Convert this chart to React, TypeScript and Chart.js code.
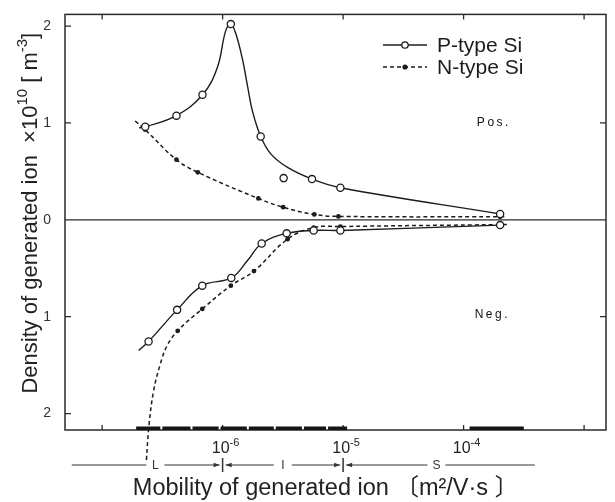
import React, { useEffect, useRef } from 'react';
import { Chart, registerables } from 'chart.js';

Chart.register(...registerables);

// ---------- data (mobility in m^2/V·s, density ×10^10 m^-3; negative = Neg. branch) ----------
const SERIES_LABELS = ['P-type Si', 'N-type Si'];

// P-type, positive ions: measured markers
const P_POS_X = [2.28e-7, 4.14e-7, 6.81e-7, 1.17e-6, 2.07e-6, 3.21e-6, 5.52e-6, 9.49e-6, 2.01e-4];
const P_POS_Y = [0.96, 1.075, 1.29, 2.02, 0.86, 0.43, 0.42, 0.33, 0.06];
// P-type, positive ions: drawn curve
const P_POS_CURVE_X = [2.03e-7, 2.28e-7, 4.14e-7, 6.81e-7, 9.03e-7, 1.06e-6, 1.17e-6, 1.28e-6, 1.46e-6, 1.61e-6, 1.77e-6, 2.07e-6, 2.51e-6, 3.46e-6, 5.52e-6, 9.49e-6, 2.01e-4];
const P_POS_CURVE_Y = [0.95, 0.96, 1.075, 1.29, 1.57, 1.95, 2.02, 1.93, 1.66, 1.38, 1.12, 0.86, 0.68, 0.54, 0.42, 0.33, 0.06];

// N-type, positive ions
const N_POS_X = [2.28e-7, 4.14e-7, 6.23e-7, 1.98e-6, 3.18e-6, 5.77e-6, 9.14e-6, 2.01e-4];
const N_POS_Y = [0.93, 0.62, 0.49, 0.22, 0.13, 0.055, 0.035, 0.03];
const N_POS_CURVE_X = [1.88e-7, 2.28e-7, 4.14e-7, 6.23e-7, 1.98e-6, 3.18e-6, 5.77e-6, 9.14e-6, 2.01e-4, 2.3e-4];
const N_POS_CURVE_Y = [1.02, 0.93, 0.62, 0.49, 0.22, 0.13, 0.055, 0.035, 0.03, 0.03];

// P-type, negative ions
const P_NEG_X = [2.43e-7, 4.19e-7, 6.78e-7, 1.18e-6, 2.11e-6, 3.4e-6, 5.7e-6, 9.49e-6, 2.01e-4];
const P_NEG_Y = [-1.256, -0.93, -0.68, -0.6, -0.245, -0.14, -0.11, -0.11, -0.055];
const P_NEG_CURVE_X = [2.01e-7, 2.43e-7, 4.19e-7, 6.78e-7, 1.18e-6, 1.61e-6, 2.11e-6, 3.4e-6, 5.7e-6, 9.49e-6, 2.01e-4];
const P_NEG_CURVE_Y = [-1.35, -1.256, -0.93, -0.68, -0.6, -0.42, -0.245, -0.14, -0.11, -0.11, -0.055];

// N-type, negative ions
const N_NEG_X = [2.33e-7, 4.24e-7, 6.78e-7, 1.17e-6, 1.82e-6, 3.46e-6, 5.7e-6, 9.49e-6];
const N_NEG_Y = [-2.48, -1.146, -0.92, -0.68, -0.53, -0.2, -0.08, -0.07];
const N_NEG_CURVE_X = [2.33e-7, 2.45e-7, 2.68e-7, 3.04e-7, 3.46e-7, 4.24e-7, 6.78e-7, 1.17e-6, 1.82e-6, 3.46e-6, 5.7e-6, 9.49e-6, 2.01e-4, 2.3e-4];
const N_NEG_CURVE_Y = [-2.48, -2.12, -1.76, -1.49, -1.3, -1.146, -0.92, -0.68, -0.53, -0.2, -0.08, -0.07, -0.05, -0.05];

// axes
const X_MIN = 4.92e-8;
const X_MAX = 1.52e-3;
const X_TICKS = [1e-7, 1e-6, 1e-5, 1e-4, 1e-3];
const X_TICK_LABELS = ['', '10^-6', '10^-5', '10^-4', ''];
const Y_MIN = -2.17;
const Y_MAX = 2.12;
const Y_TICKS = [-2, -1, 0, 1, 2];

// measurement channel bands on the x axis (edges)
const CHANNEL_BANDS = [
  [1.88e-7, 3.1e-7, 5.52e-7, 9.44e-7, 1.62e-6, 2.71e-6, 4.64e-6, 7.36e-6, 1.1e-5],
  [1.1e-4, 3.22e-4],
];

// mobility ranges below the axis
const RANGE_EDGES = [5.6e-8, 1e-6, 1e-5, 3.9e-4];
const RANGE_LABELS = ['L', 'I', 'S'];
const RANGE_LABEL_AT = [2.77e-7, 3.16e-6, 5.96e-5];

// text annotations inside the plot
const NOTE_TEXT = ['Pos.', 'Neg.'];
const NOTE_X = [1.75e-4, 1.7e-4];
const NOTE_Y = [1.0, -0.98];

const X_TITLE = 'Mobility of generated ion';
const X_TITLE_UNIT = '〔m²/V·s 〕';

// ---------- drawing ----------
const FONT = '"Liberation Sans", Arial, "Noto Sans CJK JP", sans-serif';
const INK = '#1c1c1c';

type Part = { t: string; sup?: boolean };

function drawRich(ctx: CanvasRenderingContext2D, parts: Part[], x: number, y: number, size: number, supSize: number, align: string) {
  const widths = parts.map((p) => {
    ctx.font = `${p.sup ? supSize : size}px ${FONT}`;
    return ctx.measureText(p.t).width;
  });
  const total = widths.reduce((a, b) => a + b, 0);
  let cx = align === 'center' ? x - total / 2 : align === 'right' ? x - total : x;
  ctx.textAlign = 'left';
  ctx.textBaseline = 'alphabetic';
  parts.forEach((p, i) => {
    ctx.font = `${p.sup ? supSize : size}px ${FONT}`;
    ctx.fillText(p.t, cx, p.sup ? y - size * 0.45 : y);
    cx += widths[i];
  });
}

function arrowHead(ctx: CanvasRenderingContext2D, x: number, y: number, dir: number) {
  ctx.beginPath();
  ctx.moveTo(x, y);
  ctx.lineTo(x - dir * 6, y - 2.3);
  ctx.lineTo(x - dir * 6, y + 2.3);
  ctx.closePath();
  ctx.fill();
}

const decorPlugin = {
  id: 'decor',
  beforeDatasetsDraw(chart: any) {
    const { ctx, chartArea: a, scales } = chart;
    const xs = scales.x;
    const ys = scales.y;
    ctx.save();
    ctx.strokeStyle = '#2a2a2a';
    ctx.lineWidth = 1.5;
    ctx.strokeRect(a.left, a.top, a.right - a.left, a.bottom - a.top);
    // zero line
    const y0 = ys.getPixelForValue(0);
    ctx.lineWidth = 1.2;
    ctx.beginPath();
    ctx.moveTo(a.left, y0);
    ctx.lineTo(a.right, y0);
    ctx.stroke();
    // inward ticks
    ctx.lineWidth = 1.3;
    ctx.beginPath();
    Y_TICKS.forEach((v) => {
      if (v === 0) return;
      const py = ys.getPixelForValue(v);
      ctx.moveTo(a.left, py);
      ctx.lineTo(a.left + 6, py);
      if (Math.abs(v) === 1) {
        ctx.moveTo(a.right, py);
        ctx.lineTo(a.right - 6, py);
      }
    });
    X_TICKS.forEach((v) => {
      const px = xs.getPixelForValue(v);
      ctx.moveTo(px, a.bottom);
      ctx.lineTo(px, a.bottom - 5);
      ctx.moveTo(px, a.top);
      ctx.lineTo(px, a.top + 5);
    });
    ctx.stroke();
    // channel bands
    ctx.fillStyle = '#151515';
    CHANNEL_BANDS.forEach((edges) => {
      for (let i = 0; i < edges.length - 1; i++) {
        const x1 = xs.getPixelForValue(edges[i]);
        const x2 = xs.getPixelForValue(edges[i + 1]);
        ctx.fillRect(x1 + 1, a.bottom - 3.5, x2 - x1 - 2, 3.5);
      }
    });
    ctx.restore();
  },
  afterDatasetsDraw(chart: any) {
    const { ctx, chartArea: a, scales } = chart;
    const xs = scales.x;
    const ys = scales.y;
    ctx.save();
    ctx.fillStyle = INK;
    ctx.strokeStyle = INK;

    // legend
    SERIES_LABELS.forEach((lab, i) => {
      const ly = 45 + i * 22;
      ctx.lineWidth = 1.3;
      ctx.setLineDash(i === 0 ? [] : [4, 3]);
      ctx.beginPath();
      ctx.moveTo(383, ly);
      ctx.lineTo(427, ly);
      ctx.stroke();
      ctx.setLineDash([]);
      ctx.beginPath();
      if (i === 0) {
        ctx.fillStyle = '#fff';
        ctx.arc(405, ly, 3.2, 0, Math.PI * 2);
        ctx.fill();
        ctx.stroke();
      } else {
        ctx.fillStyle = INK;
        ctx.arc(405, ly, 2.6, 0, Math.PI * 2);
        ctx.fill();
      }
      ctx.fillStyle = INK;
      ctx.font = `21px ${FONT}`;
      ctx.textAlign = 'left';
      ctx.textBaseline = 'alphabetic';
      ctx.fillText(lab, 437, ly + 7);
    });

    // Pos. / Neg.
    ctx.fillStyle = '#111';
    ctx.font = `12px ${FONT}`;
    (ctx as any).letterSpacing = '2.5px';
    ctx.textAlign = 'center';
    ctx.textBaseline = 'middle';
    NOTE_TEXT.forEach((t, i) => {
      ctx.fillText(t, xs.getPixelForValue(NOTE_X[i]) + 1, ys.getPixelForValue(NOTE_Y[i]));
    });
    (ctx as any).letterSpacing = '0px';

    // x tick labels with superscripts
    ctx.fillStyle = '#222';
    X_TICKS.forEach((v, i) => {
      const lab = X_TICK_LABELS[i];
      if (!lab) return;
      const [base, exp] = lab.split('^');
      drawRich(ctx, [{ t: base }, { t: exp, sup: true }], xs.getPixelForValue(v) + 3, a.bottom + 23, 16, 11, 'center');
    });

    // L / I / S ranges
    const ry = 465;
    ctx.lineWidth = 1;
    ctx.strokeStyle = '#333';
    ctx.fillStyle = '#333';
    ctx.font = `12px ${FONT}`;
    ctx.textAlign = 'center';
    ctx.textBaseline = 'middle';
    const last = RANGE_EDGES.length - 1;
    RANGE_LABELS.forEach((lab, i) => {
      const xl = xs.getPixelForValue(RANGE_EDGES[i]);
      const xr = xs.getPixelForValue(RANGE_EDGES[i + 1]);
      const xc = xs.getPixelForValue(RANGE_LABEL_AT[i]);
      ctx.fillText(lab, xc, ry + 1);
      const gap = 9;
      const segL = [xl + (i > 0 ? 3 : 0), xc - gap];
      const segR = [xc + gap, xr - (i + 1 < last ? 3 : 0)];
      ctx.beginPath();
      ctx.moveTo(segL[0], ry);
      ctx.lineTo(segL[1], ry);
      ctx.moveTo(segR[0], ry);
      ctx.lineTo(segR[1], ry);
      ctx.stroke();
      if (i > 0) arrowHead(ctx, segL[0], ry, -1);
      if (i + 1 < last) arrowHead(ctx, segR[1], ry, 1);
    });
    ctx.lineWidth = 1.5;
    ctx.beginPath();
    for (let i = 1; i < last; i++) {
      const px = xs.getPixelForValue(RANGE_EDGES[i]);
      ctx.moveTo(px, ry - 7);
      ctx.lineTo(px, ry + 7);
    }
    ctx.stroke();

    // axis titles
    ctx.fillStyle = '#222';
    drawRich(ctx, [{ t: X_TITLE + ' ' }, { t: X_TITLE_UNIT }], (a.left + a.right) / 2 - 10, 495, 23.5, 16, 'center');

    ctx.translate(37, (a.top + a.bottom) / 2 - 9);
    ctx.rotate(-Math.PI / 2);
    drawRich(
      ctx,
      [
        { t: 'Density of generated ion  ×10' },
        { t: '10', sup: true },
        { t: ' [ m' },
        { t: '-3', sup: true },
        { t: ']' },
      ],
      0,
      0,
      22,
      15,
      'center'
    );
    ctx.restore();
  },
};

function pts(xa: number[], ya: number[]) {
  return xa.map((x, i) => ({ x, y: ya[i] }));
}

export default function App() {
  const ref = useRef<HTMLCanvasElement | null>(null);
  useEffect(() => {
    if (!ref.current) return;
    const curve = (xa: number[], ya: number[], dashed: boolean, clip: boolean) => ({
      data: pts(xa, ya),
      showLine: true,
      borderColor: INK,
      borderWidth: dashed ? 1.5 : 1.4,
      borderDash: dashed ? [4, 3] : [],
      pointRadius: 0,
      tension: 0.4,
      capBezierPoints: false,
      fill: false,
      order: 2,
      clip: clip ? undefined : false,
    });
    const marks = (xa: number[], ya: number[], open: boolean, clip: boolean) => ({
      data: pts(xa, ya),
      showLine: false,
      pointRadius: open ? 3.6 : 2.4,
      pointBackgroundColor: open ? '#fff' : INK,
      pointBorderColor: INK,
      pointBorderWidth: open ? 1.3 : 0,
      order: 1,
      clip: clip ? undefined : false,
    });
    const chart = new Chart(ref.current, {
      type: 'scatter',
      data: {
        datasets: [
          marks(P_POS_X, P_POS_Y, true, true),
          marks(P_NEG_X, P_NEG_Y, true, true),
          marks(N_POS_X, N_POS_Y, false, true),
          marks(N_NEG_X, N_NEG_Y, false, false),
          curve(P_POS_CURVE_X, P_POS_CURVE_Y, false, true),
          curve(P_NEG_CURVE_X, P_NEG_CURVE_Y, false, true),
          curve(N_POS_CURVE_X, N_POS_CURVE_Y, true, true),
          curve(N_NEG_CURVE_X, N_NEG_CURVE_Y, true, false),
        ] as any,
      },
      options: {
        animation: false,
        responsive: false,
        devicePixelRatio: 1,
        layout: { padding: { top: 10, right: 9, left: 0, bottom: 0 } },
        plugins: { legend: { display: false }, tooltip: { enabled: false } },
        scales: {
          x: {
            type: 'logarithmic',
            min: X_MIN,
            max: X_MAX,
            afterBuildTicks: (s: any) => {
              s.ticks = X_TICKS.map((v) => ({ value: v }));
            },
            ticks: { display: false },
            grid: { display: false },
            border: { display: false },
            afterFit: (s: any) => {
              s.height = 72;
            },
          },
          y: {
            type: 'linear',
            min: Y_MIN,
            max: Y_MAX,
            afterBuildTicks: (s: any) => {
              s.ticks = Y_TICKS.map((v) => ({ value: v }));
            },
            ticks: {
              callback: (v: any) => String(Math.abs(Number(v))),
              font: { family: '"Liberation Sans", Arial, sans-serif', size: 14 },
              color: '#333',
              padding: 6,
            },
            grid: { display: false },
            border: { display: false },
            afterFit: (s: any) => {
              s.width = 65;
            },
          },
        },
      } as any,
      plugins: [decorPlugin],
    });
    return () => chart.destroy();
  }, []);
  return (
    <div style={{ position: 'absolute', left: 0, top: 0, width: 615, height: 502, background: '#fff' }}>
      <canvas ref={ref} width={615} height={502} style={{ display: 'block' }} />
    </div>
  );
}
